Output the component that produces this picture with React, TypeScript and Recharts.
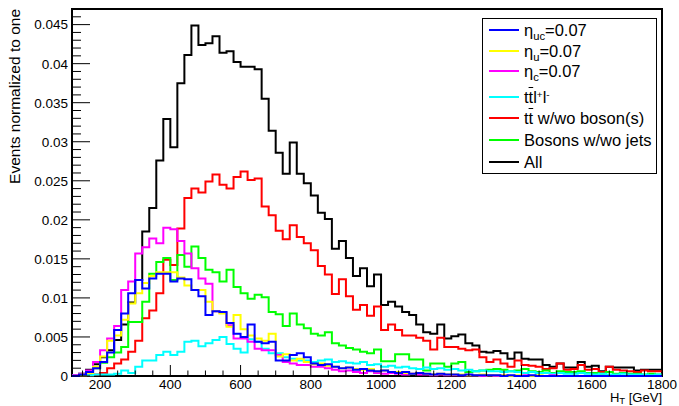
import { LineChart, Line, XAxis, YAxis, ReferenceArea } from 'recharts';

// bin low edges (20 GeV bins), last entry closes the final bin
const binEdges = [
  120, 140, 160, 180, 200, 220, 240, 260, 280, 300, 320, 340, 360, 380, 400, 420, 440, 460, 480, 500,
  520, 540, 560, 580, 600, 620, 640, 660, 680, 700, 720, 740, 760, 780, 800, 820, 840, 860, 880, 900,
  920, 940, 960, 980, 1000, 1020, 1040, 1060, 1080, 1100, 1120, 1140, 1160, 1180, 1200, 1220, 1240,
  1260, 1280, 1300, 1320, 1340, 1360, 1380, 1400, 1420, 1440, 1460, 1480, 1500, 1520, 1540, 1560,
  1580, 1600, 1620, 1640, 1660, 1680, 1700, 1720, 1740, 1760, 1780, 1800,
];

const allEvents = [
  0.0001, 0.0003, 0.0008, 0.0015, 0.0024, 0.0033, 0.0046, 0.0066, 0.0094, 0.0123,
  0.0185, 0.0215, 0.0276, 0.0329, 0.0293, 0.0375, 0.0411, 0.0449, 0.0424, 0.0426,
  0.0435, 0.0414, 0.0416, 0.0402, 0.0396, 0.0396, 0.0393, 0.0355, 0.0314, 0.0286,
  0.0259, 0.0299, 0.0259, 0.0247, 0.0231, 0.0209, 0.0201, 0.0163, 0.0173, 0.0151,
  0.0128, 0.0138, 0.0115, 0.013, 0.0091, 0.0095, 0.0089, 0.0082, 0.0078, 0.0066,
  0.0056, 0.0054, 0.0066, 0.0048, 0.0051, 0.0053, 0.0042, 0.0039, 0.0031, 0.003,
  0.0032, 0.0029, 0.0022, 0.003, 0.0022, 0.0021, 0.0021, 0.0014, 0.0012, 0.0016,
  0.0011, 0.0011, 0.0018, 0.0012, 0.0013, 0.0006, 0.0012, 0.0011, 0.0011, 0.0011,
  0.0007, 0.0008, 0.0008, 0.0008,
];

const ttbar = [
  0, 0, 0.0001, 0.0002, 0.0004, 0.001, 0.0016, 0.0021, 0.0031, 0.0045,
  0.0074, 0.0084, 0.0106, 0.0149, 0.0142, 0.0189, 0.0228, 0.024, 0.0235, 0.0249,
  0.0258, 0.0245, 0.024, 0.0255, 0.0262, 0.0251, 0.0253, 0.0217, 0.0206, 0.0186,
  0.0175, 0.0193, 0.0178, 0.017, 0.0161, 0.0141, 0.013, 0.0105, 0.0124, 0.0102,
  0.0085, 0.0091, 0.0077, 0.0089, 0.0059, 0.0066, 0.0059, 0.0052, 0.0052, 0.0049,
  0.0045, 0.0034, 0.0049, 0.0037, 0.0037, 0.0035, 0.0033, 0.0034, 0.0024, 0.0018,
  0.0021, 0.0016, 0.0012, 0.002, 0.0014, 0.0013, 0.0012, 0.0009, 0.001, 0.0016,
  0.0008, 0.0009, 0.0014, 0.0008, 0.0009, 0.0005, 0.0012, 0.0008, 0.0007, 0.0006,
  0.0005, 0.0007, 0.0006, 0.0006,
];

const bosons = [
  0, 0.0001, 0.0004, 0.001, 0.0017, 0.0024, 0.003, 0.0037, 0.0069, 0.0069,
  0.0095, 0.0131, 0.0146, 0.0151, 0.0123, 0.0155, 0.014, 0.0166, 0.0151, 0.0136,
  0.0133, 0.0121, 0.0136, 0.0114, 0.0106, 0.0099, 0.0104, 0.0101, 0.0082, 0.0079,
  0.0064, 0.008, 0.0066, 0.0061, 0.0054, 0.0052, 0.0056, 0.0042, 0.0039, 0.0036,
  0.0034, 0.0031, 0.0029, 0.0034, 0.0019, 0.0019, 0.0028, 0.0028, 0.0021, 0.0021,
  0.0007, 0.0016, 0.0016, 0.0012, 0.0016, 0.0018, 0.0005, 0.0006, 0.0007, 0.0008,
  0.0009, 0.0008, 0.0006, 0.0007, 0.0009, 0.0006, 0.0005, 0.0007, 0.0004, 0.0006,
  0.0005, 0.0005, 0.0006, 0.0004, 0.0004, 0.0003, 0.0005, 0.0003, 0.0004, 0.0003,
  0.0003, 0.0002, 0.0003, 0.0002,
];

const etaC = [
  0.0001, 0.0003, 0.0007, 0.0018, 0.0033, 0.0048, 0.0064, 0.011, 0.0121, 0.0157,
  0.0165, 0.0176, 0.017, 0.019, 0.0188, 0.0173, 0.0157, 0.0138, 0.0125, 0.0118,
  0.0083, 0.0081, 0.0065, 0.0048, 0.0048, 0.0044, 0.0035, 0.0033, 0.0033, 0.0027,
  0.0018, 0.0016, 0.0014, 0.0014, 0.0012, 0.0012, 0.001, 0.0008, 0.0006, 0.0007,
  0.0005, 0.0004, 0.0006, 0.0004, 0.0003, 0.0004, 0.0003, 0.0002, 0.0003, 0.0002,
  0.0002, 0.0001, 0.0002, 0.0001, 0.0001, 0.0001, 0.0001, 0.0001, 0, 0.0001,
  0, 0.0001, 0, 0, 0.0001, 0, 0, 0, 0.0001, 0,
  0, 0, 0, 0, 0, 0, 0, 0, 0, 0,
  0, 0, 0, 0,
];

const etaUC = [
  0, 0.0002, 0.0005, 0.001, 0.0018, 0.003, 0.0059, 0.008, 0.0106, 0.0123,
  0.0112, 0.0125, 0.0131, 0.0131, 0.0121, 0.0125, 0.0124, 0.011, 0.0102, 0.0078,
  0.0083, 0.0082, 0.0068, 0.0054, 0.005, 0.0066, 0.0044, 0.0042, 0.0044, 0.002,
  0.002, 0.0027, 0.0029, 0.0024, 0.0016, 0.0014, 0.0015, 0.0012, 0.001, 0.0011,
  0.0008, 0.0009, 0.0007, 0.0006, 0.0007, 0.0005, 0.0004, 0.0005, 0.0003, 0.0004,
  0.0003, 0.0002, 0.0003, 0.0002, 0.0002, 0.0001, 0.0002, 0.0001, 0.0001, 0.0001,
  0.0001, 0, 0.0001, 0, 0, 0.0001, 0, 0, 0, 0,
  0, 0, 0, 0, 0, 0, 0, 0, 0, 0,
  0, 0, 0, 0,
];

const etaU = [
  0, 0.0002, 0.0004, 0.0012, 0.0025, 0.0045, 0.0052, 0.0072, 0.0093, 0.0106,
  0.0119, 0.0128, 0.0133, 0.0133, 0.0133, 0.0126, 0.0116, 0.011, 0.011, 0.0095,
  0.0083, 0.008, 0.0063, 0.0078, 0.006, 0.0052, 0.0048, 0.0045, 0.0054, 0.0025,
  0.0028, 0.002, 0.0022, 0.0018, 0.0015, 0.0016, 0.0013, 0.0012, 0.001, 0.0011,
  0.0009, 0.0008, 0.0009, 0.0006, 0.0007, 0.0005, 0.0005, 0.0004, 0.0003, 0.0004,
  0.0003, 0.0002, 0.0003, 0.0002, 0.0002, 0.0002, 0.0001, 0.0001, 0.0002, 0.0001,
  0.0001, 0.0001, 0, 0.0001, 0, 0, 0.0001, 0, 0, 0,
  0, 0, 0, 0, 0, 0, 0, 0, 0, 0,
  0, 0, 0, 0,
];

const ttll = [
  0.0001, 0.0001, 0.0001, 0.0002, 0.0002, 0.0002, 0.0003, 0.0007, 0.0004, 0.0012,
  0.002, 0.002, 0.0027, 0.0031, 0.0027, 0.0031, 0.0044, 0.0045, 0.0038, 0.0042,
  0.0046, 0.005, 0.0041, 0.0035, 0.003, 0.0047, 0.0044, 0.0035, 0.0029, 0.0029,
  0.0024, 0.0022, 0.002, 0.002, 0.0018, 0.002, 0.0021, 0.0018, 0.0019, 0.0017,
  0.0016, 0.0018, 0.0014, 0.0015, 0.0012, 0.0013, 0.0011, 0.0012, 0.001, 0.0009,
  0.0011, 0.0009, 0.001, 0.0008, 0.0009, 0.0007, 0.0008, 0.0006, 0.0007, 0.0006,
  0.0006, 0.0005, 0.0006, 0.0005, 0.0004, 0.0005, 0.0004, 0.0004, 0.0003, 0.0004,
  0.0003, 0.0003, 0.0004, 0.0003, 0.0002, 0.0003, 0.0002, 0.0002, 0.0003, 0.0002,
  0.0002, 0.0002, 0.0001, 0.0002,
];

const xMajorTicks = [200, 400, 600, 800, 1000, 1200, 1400, 1600, 1800];
const xTicks = Array.from({ length: 34 }, (_, i) => 150 + 50 * i);
const yTicks = Array.from({ length: 48 }, (_, i) => i / 1000);

const seriesList = [
  { key: 'all', color: '#000000' },
  { key: 'ttbar', color: '#ff0000' },
  { key: 'bosons', color: '#00ff00' },
  { key: 'ttll', color: '#00ffff' },
  { key: 'etaC', color: '#ff00ff' },
  { key: 'etaU', color: '#ffff00' },
  { key: 'etaUC', color: '#0000ff' },
];

const pick = (arr: number[], i: number) => arr[Math.min(i, arr.length - 1)];

const data = binEdges.map((x, i) => ({
  x,
  all: pick(allEvents, i),
  ttbar: pick(ttbar, i),
  bosons: pick(bosons, i),
  ttll: pick(ttll, i),
  etaC: pick(etaC, i),
  etaU: pick(etaU, i),
  etaUC: pick(etaUC, i),
}));

const FONT = '"Liberation Sans", Arial, Helvetica, sans-serif';

const XTick = (props: any) => {
  const { x, y, payload } = props;
  const v = payload.value;
  const major = xMajorTicks.includes(v);
  return (
    <g>
      <line x1={x} x2={x} y1={y} y2={y - (major ? 11 : 5.5)} stroke="#000" strokeWidth={1} />
      {major && (
        <text x={x} y={y + 12.5} textAnchor="middle" fontSize={13.5} fontFamily={FONT} fill="#000">
          {v}
        </text>
      )}
    </g>
  );
};

const YTick = (props: any) => {
  const { x, y, payload } = props;
  const v = payload.value;
  const major = Math.round(v * 1000) % 5 === 0;
  return (
    <g>
      <line x1={x} x2={x + (major ? 18 : 9)} y1={y} y2={y} stroke="#000" strokeWidth={1} />
      {major && (
        <text x={x - 4} y={y} dy="0.36em" textAnchor="end" fontSize={13.5} fontFamily={FONT} fill="#000">
          {`${+v.toFixed(3)}`}
        </text>
      )}
    </g>
  );
};

const subStyle = { fontSize: '0.68em', position: 'relative' as const, top: '0.4em', lineHeight: 0 };
const supStyle = { fontSize: '0.6em', position: 'relative' as const, top: '-0.55em', lineHeight: 0 };
const bar = { textDecoration: 'overline' };

const legendRows = [
  { color: '#0000ff', y: 30, label: <>η<span style={subStyle}>uc</span>=0.07</> },
  { color: '#ffff00', y: 51, label: <>η<span style={subStyle}>u</span>=0.07</> },
  { color: '#ff00ff', y: 71, label: <>η<span style={subStyle}>c</span>=0.07</> },
  {
    color: '#00ffff',
    y: 97,
    label: <>t<span style={bar}>t</span>l<span style={supStyle}>+</span>l<span style={supStyle}>-</span></>,
  },
  { color: '#ff0000', y: 118, label: <>t<span style={bar}>t</span> w/wo boson(s)</> },
  { color: '#00ff00', y: 140, label: <>Bosons w/wo jets</> },
  { color: '#000000', y: 162, label: <>All</> },
];

export default function App() {
  return (
    <div style={{ position: 'absolute', left: 0, top: 0, width: 679, height: 406, background: '#fff' }}>
      <LineChart width={679} height={406} data={data} margin={{ top: 9, right: 17, bottom: 0, left: 0 }}>
        <XAxis
          dataKey="x"
          type="number"
          domain={[120, 1800]}
          ticks={xTicks}
          interval={0}
          tickSize={0}
          tickMargin={0}
          tickLine={false}
          axisLine={false}
          height={30}
          tick={<XTick />}
          label={{
            content: () => (
              <text x={662} y={401.5} textAnchor="end" fontSize={13} fontFamily={FONT} fill="#000">
                H<tspan fontSize={9.5} dy={2}>T</tspan>
                <tspan dy={-2}> [GeV]</tspan>
              </text>
            ),
          }}
        />
        <YAxis
          type="number"
          domain={[0, 0.047]}
          ticks={yTicks}
          interval={0}
          tickSize={0}
          tickMargin={0}
          tickLine={false}
          axisLine={false}
          width={72}
          tick={<YTick />}
          label={{
            content: () => (
              <text
                transform="translate(20, 9) rotate(-90)"
                textAnchor="end"
                fontSize={15.5}
                fontFamily={FONT}
                fill="#000"
              >
                Events normalized to one
              </text>
            ),
          }}
        />
        {seriesList.map((s) => (
          <Line
            key={s.key}
            type="stepAfter"
            dataKey={s.key}
            stroke={s.color}
            strokeWidth={2}
            dot={false}
            activeDot={false}
            isAnimationActive={false}
          />
        ))}
        <ReferenceArea x1={120} x2={1800} y1={0} y2={0.047} fill="none" stroke="#000" strokeWidth={2} />
      </LineChart>
      <div
        style={{
          position: 'absolute',
          left: 482,
          top: 18,
          width: 173,
          height: 154,
          border: '1px solid #000',
          background: '#fff',
          fontFamily: FONT,
          fontSize: 16.5,
          color: '#000',
        }}
      >
        {legendRows.map((r, i) => (
          <div key={i}>
            <div
              style={{
                position: 'absolute',
                left: 6,
                top: r.y - 19 - 1,
                width: 30,
                height: 2,
                background: r.color,
              }}
            />
            <div
              style={{
                position: 'absolute',
                left: 41,
                top: r.y - 19 - 10,
                height: 20,
                lineHeight: '20px',
                whiteSpace: 'nowrap',
              }}
            >
              {r.label}
            </div>
          </div>
        ))}
      </div>
    </div>
  );
}
